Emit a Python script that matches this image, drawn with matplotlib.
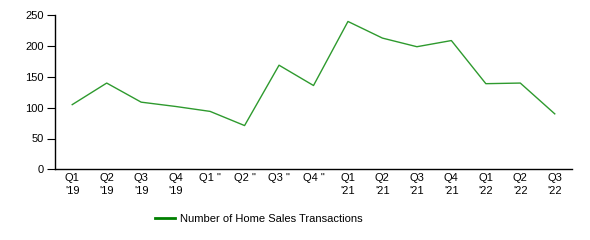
import matplotlib
matplotlib.use("Agg")
import matplotlib.pyplot as plt

labels = ["Q1\n'19", "Q2\n'19", "Q3\n'19", "Q4\n'19",
          'Q1 "', 'Q2 "', 'Q3 "', 'Q4 "',
          "Q1\n'21", "Q2\n'21", "Q3\n'21", "Q4\n'21",
          "Q1\n'22", "Q2\n'22", "Q3\n'22"]
values = [105, 140, 109, 102, 94, 71, 169, 136, 240, 213, 199, 209, 139, 140, 90]
series_name = "Number of Home Sales Transactions"

plt.rcParams['font.family'] = ['Liberation Sans', 'DejaVu Sans']
fig = plt.figure(figsize=(5.9, 2.4), dpi=100)
ax = fig.add_axes([55/590, 1-169.3/240, (572-55)/590, (169.3-15.3)/240])

x = list(range(len(values)))
ax.plot(x, values, color='#2e9a2e', lw=1.0, label=series_name)
ax.set_xlim(-0.5, len(values) - 0.5)
ax.set_ylim(0, 250)
ax.set_yticks([0, 50, 100, 150, 200, 250])
ax.set_xticks(x)
ax.set_xticklabels(labels, va='top', linespacing=1.3)
ax.tick_params(axis='x', length=0, pad=3, labelsize=8)
ax.tick_params(axis='y', length=6, width=0.8, pad=2, labelsize=8)
for s in ['top', 'right']:
    ax.spines[s].set_visible(False)
for s in ['left', 'bottom']:
    ax.spines[s].set_linewidth(1.0)
    ax.spines[s].set_color('black')

handle = plt.Line2D([], [], color='green', lw=2)
fig.legend([handle], [series_name], loc='center left',
           bbox_to_anchor=(155/590, 1-219/240), frameon=False,
           borderpad=0, borderaxespad=0, handlelength=1.8,
           handletextpad=0.45, fontsize=8)

fig.savefig('out.png', dpi=100)
